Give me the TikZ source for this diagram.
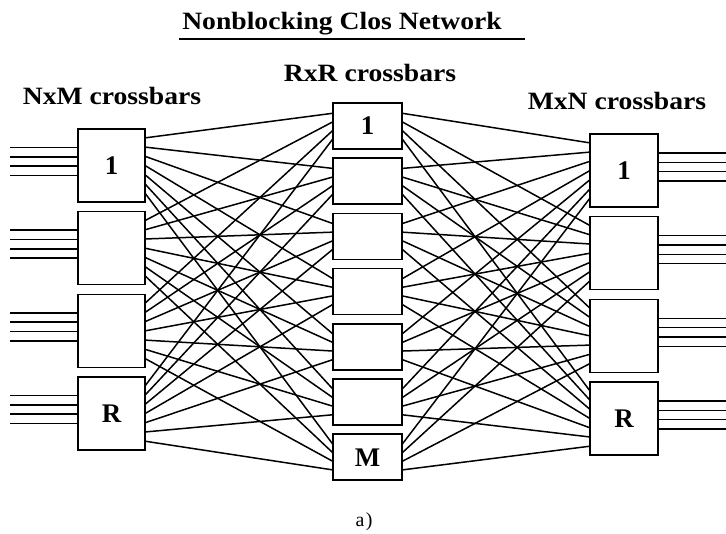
\documentclass[tikz,border=0pt]{standalone}
\usepackage{fontspec}
\setmainfont{Liberation Serif}
\usetikzlibrary{calc,backgrounds}
\begin{document}
\begin{tikzpicture}[x=1bp,y=1bp,
  wire/.style={line width=1.5bp,black},
  xbox/.style={draw,line width=1.6bp,inner sep=0pt,outer sep=0pt,fill=white,
     font=\fontsize{27}{30}\selectfont\bfseries},
  sidebox/.style={xbox,minimum width=67bp,minimum height=73bp},
  midbox/.style={xbox,minimum width=69bp,minimum height=46bp},
  lbl/.style={font=\fontsize{25}{28}\selectfont\bfseries,anchor=base,inner sep=0pt}]
\useasboundingbox (0,0) rectangle (726,534);
% title
\node[lbl] (title) at (342,504) {\scalebox{1.11}[1]{Nonblocking Clos Network}};
\coordinate (u1) at (179,495);
\coordinate (u2) at (525,495);
\draw[line width=1.8bp] (u1) -- (u2);
% column labels
\node[lbl] (lhead) at (112,429) {\scalebox{1.11}[1]{NxM crossbars}};
\node[lbl] (mhead) at (370,452) {\scalebox{1.11}[1]{RxR crossbars}};
\node[lbl] (rhead) at (617,424) {\scalebox{1.11}[1]{MxN crossbars}};
% boxes
\foreach \i/\cy/\t in {1/165.5/1,2/248.2/,3/330.9/,4/413.6/R}{
  \node[sidebox] (L\i) at (111.5,534-\cy) {\t};
}
\foreach \i/\cy/\t in {1/170.5/1,2/253.2/,3/335.9/,4/418.6/R}{
  \node[sidebox,minimum width=68bp] (R\i) at (624,534-\cy) {\t};
}
\foreach \j/\cy/\t in {1/126/1,2/181.2/,3/236.4/,4/291.6/,5/346.8/,6/402/,7/457.2/M}{
  \node[midbox] (C\j) at (367.5,534-\cy) {\t};
}
% interstage wires
\begin{scope}[on background layer]
\foreach \i in {1,...,4}{
  \foreach \j in {1,...,7}{
    \draw[wire] ($(L\i.east)+(0,{-(\j-4)*9.2})$) -- ($(C\j.west)+(0,{-(\i-2.5)*8.5})$);
    \draw[wire] ($(C\j.east)+(0,{-(\i-2.5)*8.5})$) -- ($(R\i.west)+(0,{-(\j-4)*9.2})$);
  }
}
\end{scope}
% input and output lines
\foreach \i in {1,...,4}{
  \foreach \k in {0,...,3}{
    \coordinate (in\i\k) at ($(L\i.west)+(-68,{18-9.3*\k})$);
    \draw[wire] (in\i\k) -- ($(L\i.west)+(0,{18-9.3*\k})$);
    \coordinate (out\i\k) at ($(R\i.east)+(68,{17.5-9.3*\k})$);
    \draw[wire] ($(R\i.east)+(0,{17.5-9.3*\k})$) -- (out\i\k);
  }
}
\node[font=\fontsize{20}{24}\selectfont,anchor=base,inner sep=0pt] (cap) at (364,7) {a\kern1.5pt)};
\end{tikzpicture}
\end{document}
